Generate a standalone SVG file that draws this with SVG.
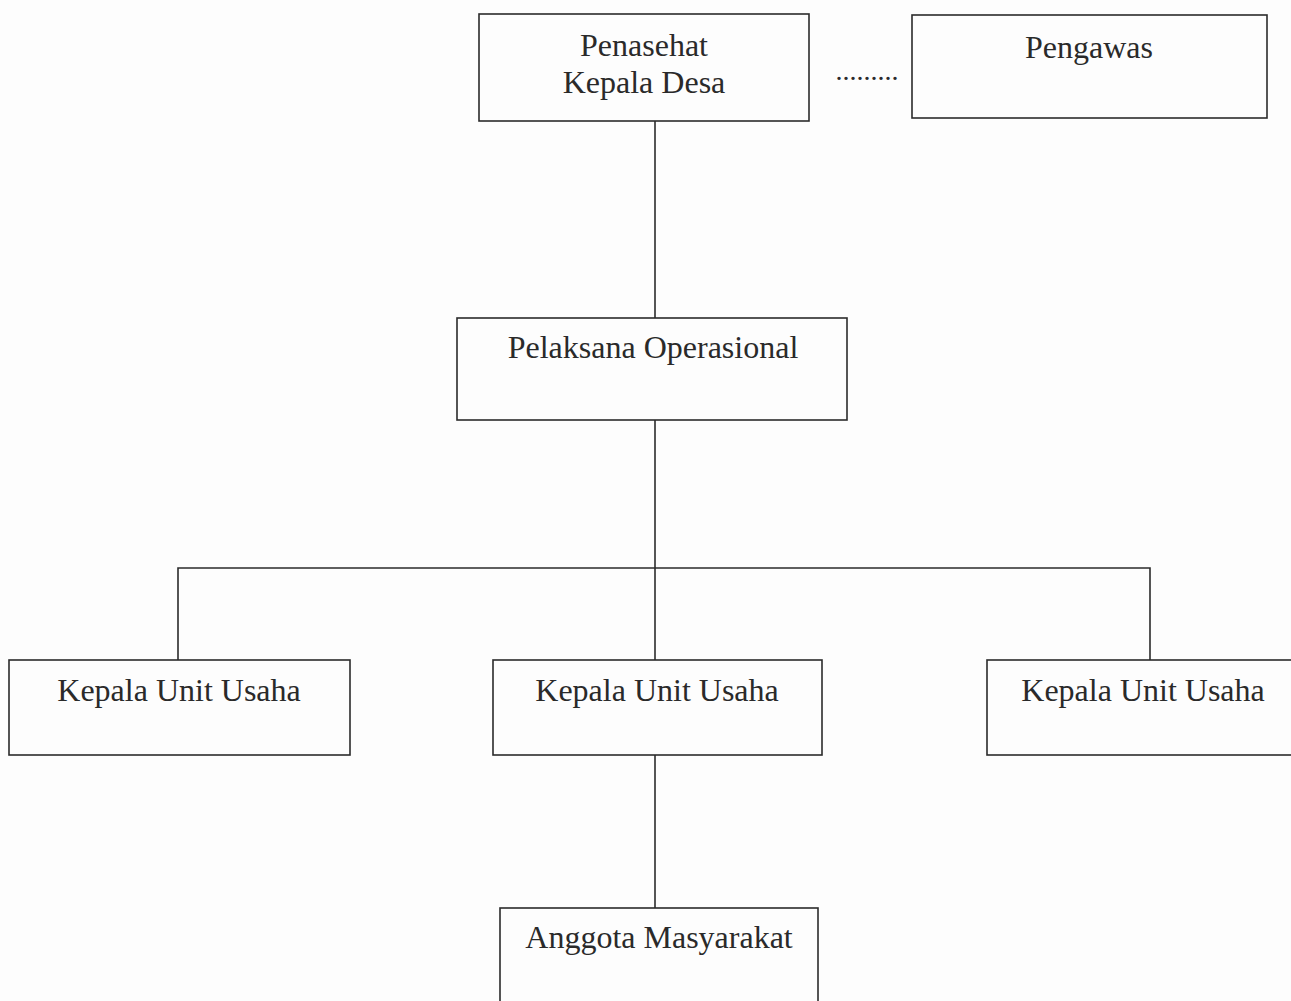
<svg xmlns="http://www.w3.org/2000/svg" width="1291" height="1001" viewBox="0 0 1291 1001">
<style>
.box{fill:none;stroke:#2b2b2b;stroke-width:1.6}
.ln{fill:none;stroke:#2b2b2b;stroke-width:1.6}
.t{font-family:"Liberation Serif","Times New Roman",serif;font-size:32px;fill:#2a2a2a;text-anchor:middle}
</style>
<rect width="1291" height="1001" fill="#fdfdfd"/>
<g id="connectors">
<line class="ln" x1="655" y1="121" x2="655" y2="318"/>
<line class="ln" x1="655" y1="420" x2="655" y2="660"/>
<polyline class="ln" points="178,660 178,568 1150,568 1150,660"/>
<line class="ln" x1="655" y1="755" x2="655" y2="908"/>
<text class="t" x="867" y="80" style="font-size:28px">.........</text>
</g>
<g id="penasehat">
<rect class="box" x="479" y="14" width="330" height="107"/>
<text class="t" x="644" y="56">Penasehat</text>
<text class="t" x="644" y="93">Kepala Desa</text>
</g>
<g id="pengawas">
<rect class="box" x="912" y="15" width="355" height="103"/>
<text class="t" x="1089" y="58">Pengawas</text>
</g>
<g id="pelaksana">
<rect class="box" x="457" y="318" width="390" height="102"/>
<text class="t" x="653" y="358">Pelaksana Operasional</text>
</g>
<g id="kuu-left">
<rect class="box" x="9" y="660" width="341" height="95"/>
<text class="t" x="179" y="701">Kepala Unit Usaha</text>
</g>
<g id="kuu-mid">
<rect class="box" x="493" y="660" width="329" height="95"/>
<text class="t" x="657" y="701">Kepala Unit Usaha</text>
</g>
<g id="kuu-right">
<rect class="box" x="987" y="660" width="310" height="95"/>
<text class="t" x="1143" y="701">Kepala Unit Usaha</text>
</g>
<g id="anggota">
<rect class="box" x="500" y="908" width="318" height="100"/>
<text class="t" x="659" y="948">Anggota Masyarakat</text>
</g>
</svg>
